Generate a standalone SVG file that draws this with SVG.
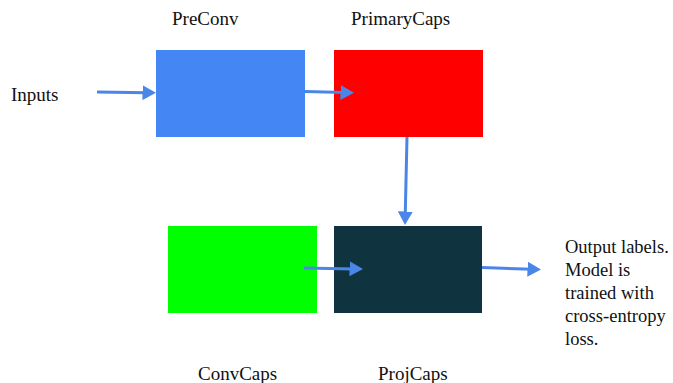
<svg xmlns="http://www.w3.org/2000/svg" width="673" height="383" viewBox="0 0 673 383">
<style>
text{font-family:"Liberation Serif","Times New Roman",serif;font-size:19px;fill:#111}
.o{font-size:18.5px}
.c{stroke:#4a86e8;stroke-width:3;fill:none;marker-end:url(#ah)}
</style>
<defs>
<marker id="ah" markerWidth="5" markerHeight="5" refX="1.5" refY="2.5" orient="auto" markerUnits="strokeWidth">
<path d="M0,0 L4.5,2.5 L0,5 z" fill="#4a86e8"/>
</marker>
</defs>
<rect width="673" height="383" fill="#fff"/>
<g id="inputs"><text x="11" y="101">Inputs</text></g>
<g id="preconv"><rect x="156" y="50" width="149" height="87" fill="#4487f4"/><text x="172" y="25">PreConv</text></g>
<g id="primarycaps"><rect x="334" y="50" width="149" height="87" fill="#ff0000"/><text x="351" y="25">PrimaryCaps</text></g>
<g id="convcaps"><rect x="168" y="226" width="149" height="87" fill="#00ff00"/><text x="198" y="380">ConvCaps</text></g>
<g id="projcaps"><rect x="334" y="226" width="148" height="87" fill="#0f343f"/><text x="378" y="380">ProjCaps</text></g>
<g id="output" class="o"><text class="o" x="565" y="253">Output labels.</text><text class="o" x="565" y="276">Model is</text><text class="o" x="565" y="299">trained with</text><text class="o" x="565" y="322">cross-entropy</text><text class="o" x="565" y="345">loss.</text></g>
<g id="connectors">
<path class="c" d="M97,92 L147,92.7"/>
<path class="c" d="M305,91.5 L345,92.6"/>
<path class="c" d="M407,137 L405.2,216"/>
<path class="c" d="M304,268 L354,268.9"/>
<path class="c" d="M482,267.5 L532,269.3"/>
</g>
</svg>
